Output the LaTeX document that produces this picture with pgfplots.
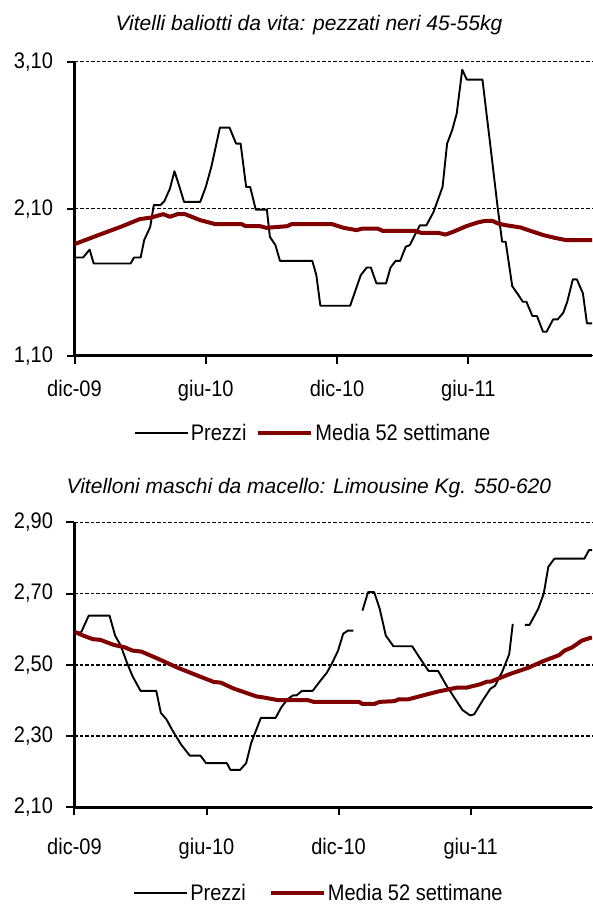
\documentclass[border=0pt]{standalone}
\usepackage{fontspec}
\setmainfont{Liberation Sans}
\newfontfamily\narrowfont[FakeStretch=0.89]{Liberation Sans}
\usepackage{pgfplots}
\pgfplotsset{compat=1.18}
\usepackage{pgfplotstable}
\definecolor{maroon}{RGB}{128,0,0}
\newcommand{\tickfont}{\narrowfont\fontsize{22.5}{27}\selectfont}
\newcommand{\titlefont}{\itshape\fontsize{21}{25}\selectfont}

\pgfplotstableread{
w v
0 1.768
1.7 1.768
3.0 1.822
3.8 1.727
11.1 1.727
11.8 1.768
13.1 1.768
13.8 1.886
15.0 1.977
15.7 2.124
17.0 2.124
17.8 2.151
18.9 2.237
19.8 2.355
20.8 2.248
21.7 2.146
24.9 2.146
26.0 2.248
27.1 2.384
28.8 2.652
30.7 2.652
32.0 2.543
32.9 2.543
34.0 2.248
34.8 2.248
35.9 2.094
38.1 2.094
38.7 1.909
39.8 1.852
40.7 1.745
47.1 1.745
47.9 1.648
48.7 1.440
54.6 1.440
56.7 1.648
57.9 1.700
58.7 1.700
59.8 1.592
61.7 1.592
62.6 1.700
63.6 1.745
64.5 1.745
65.6 1.841
66.4 1.852
68.4 1.987
69.7 1.987
71.1 2.077
72.9 2.248
73.8 2.543
74.8 2.634
75.7 2.747
76.8 3.046
77.7 2.978
80.8 2.978
82.4 2.520
83.8 2.112
84.7 1.875
85.4 1.875
86.7 1.573
87.8 1.519
88.8 1.467
89.5 1.467
90.7 1.370
91.6 1.370
92.8 1.263
93.5 1.263
94.8 1.347
95.7 1.347
96.8 1.392
97.6 1.467
98.7 1.619
99.5 1.619
100.7 1.524
101.5 1.320
102.5 1.320
}\topprezzi

\pgfplotstableread{
w v
0 1.859
4.7 1.920
9.2 1.977
12.9 2.029
15.2 2.040
17.6 2.063
18.9 2.045
20.4 2.063
21.9 2.063
24.9 2.022
27.9 1.995
33.1 1.995
33.9 1.981
36.8 1.981
38.0 1.970
42.1 1.981
43.0 1.995
51.0 1.995
53.3 1.970
55.9 1.954
57.0 1.965
60.0 1.965
61.1 1.949
67.5 1.949
68.6 1.936
72.0 1.936
73.5 1.924
75.0 1.943
77.6 1.981
79.8 2.006
81.3 2.017
82.8 2.017
83.9 1.999
85.4 1.988
88.4 1.972
89.9 1.954
92.9 1.920
95.1 1.902
97.4 1.886
102.5 1.886
}\topmedia

\pgfplotstableread{
w v
0 2.591
1.3 2.591
2.8 2.638
6.9 2.638
8.0 2.582
9.1 2.554
10.3 2.507
11.4 2.469
13.0 2.427
16.1 2.427
17.0 2.365
18.1 2.347
19.2 2.318
21.0 2.276
22.7 2.245
24.8 2.245
25.9 2.224
30.0 2.224
30.7 2.205
32.6 2.205
33.8 2.224
34.8 2.281
36.7 2.351
39.6 2.351
40.7 2.380
41.9 2.403
43.0 2.414
43.7 2.414
44.8 2.427
46.9 2.427
48.4 2.455
49.7 2.478
50.8 2.507
51.9 2.540
52.9 2.587
53.8 2.596
54.9 2.596
55.8 nan
56.7 2.652
57.8 2.704
59.0 2.704
60.1 2.657
61.3 2.582
62.8 2.552
66.5 2.552
67.9 2.521
69.7 2.483
71.6 2.483
73.1 2.445
74.6 2.412
76.4 2.373
77.9 2.358
78.7 2.361
80.5 2.403
81.9 2.433
82.8 2.441
84.2 2.480
85.6 2.530
86.3 2.615
87.5 nan
88.7 2.612
89.6 2.612
91.3 2.657
92.4 2.700
93.3 2.775
94.5 2.798
100.4 2.798
101.3 2.822
101.9 2.822
}\botprezzi

\pgfplotstableread{
w v
0 2.593
1.7 2.582
3.6 2.572
5.1 2.570
7.7 2.556
9.9 2.549
11.4 2.540
13.2 2.537
16.6 2.516
20.3 2.492
24.0 2.471
27.4 2.452
28.8 2.450
31.4 2.433
35.9 2.411
37.4 2.408
40.0 2.401
45.9 2.401
47.1 2.396
56.0 2.396
56.7 2.390
59.0 2.390
60.1 2.396
63.0 2.398
63.8 2.403
65.7 2.403
69.4 2.417
71.6 2.425
75.3 2.436
77.2 2.436
79.8 2.445
81.3 2.453
82.0 2.453
85.7 2.474
89.4 2.492
92.4 2.511
95.4 2.527
96.5 2.540
98.0 2.549
99.9 2.568
101.9 2.577
}\botmedia

\pgfplotsset{
  chartstyle/.style={
    scale only axis,
    axis x line=bottom, axis y line=left,
    axis line style={line width=2.8pt,-},
    tick style={line width=2pt,black},
    tick align=outside,
    major tick length=8pt,
    ymajorgrids,
    major grid style={line width=1.4pt,black,dash pattern=on 3.5pt off 2pt},
    xtick={0,26,52,78},
    xticklabels={dic-09,giu-10,dic-10,giu-11},
    ticklabel style={font=\tickfont},
    yticklabel style={xshift=-10pt},
    /pgf/number format/assume math mode=true,
    unbounded coords=jump,
    legend columns=2,
    legend style={draw=none,fill=none,font=\tickfont},
    legend image code/.code={\draw[#1] (0pt,0pt) -- (53pt,0pt);},
  },
  prezzi/.style={black,line width=1.9pt,line join=round},
  media/.style={maroon,line width=4pt,line join=round},
}

\begin{document}
\begin{tikzpicture}
\useasboundingbox (0pt,0pt) rectangle (592pt,-905pt);
\begin{axis}[chartstyle,
  at={(74.5pt,-355.7pt)}, anchor=south west,
  width=517.5pt, height=294pt,
  xmin=0, xmax=102.5, ymin=1.1, ymax=3.1,
  ytick={1.1,2.1,3.1}, yticklabels={{1,10},{2,10},{3,10}},
  xticklabel style={yshift=-13pt},
  title={\titlefont Vitelli baliotti da vita: pezzati neri 45-55kg},
  title style={at={(0.453,1.128)},anchor=center,yshift=-7pt},
  legend style={at={(0.461,-0.264)},anchor=center,
    /tikz/every even column/.append style={column sep=8pt}},
]
\addplot[prezzi] table[x=w,y=v] {\topprezzi};
\addlegendentry{Prezzi}
\addplot[media] table[x=w,y=v] {\topmedia};
\addlegendentry{Media 52 settimane}
\end{axis}

\begin{axis}[chartstyle,
  at={(74.5pt,-807.3pt)}, anchor=south west,
  width=517.5pt, height=285pt,
  xmin=0, xmax=101.9, ymin=2.1, ymax=2.9,
  ytick={2.1,2.3,2.5,2.7,2.9}, yticklabels={{2,10},{2,30},{2,50},{2,70},{2,90}},
  xticklabel style={yshift=-19pt},
  title={\titlefont Vitelloni maschi da macello: Limousine Kg. 550-620},
  title style={at={(0.453,1.124)},anchor=center,yshift=-7pt},
  legend style={at={(0.4725,-0.2996)},anchor=center,
    /tikz/every even column/.append style={column sep=21pt}},
]
\addplot[prezzi] table[x=w,y=v] {\botprezzi};
\addlegendentry{Prezzi}
\addplot[media] table[x=w,y=v] {\botmedia};
\addlegendentry{Media 52 settimane}
\end{axis}
\end{tikzpicture}
\end{document}
